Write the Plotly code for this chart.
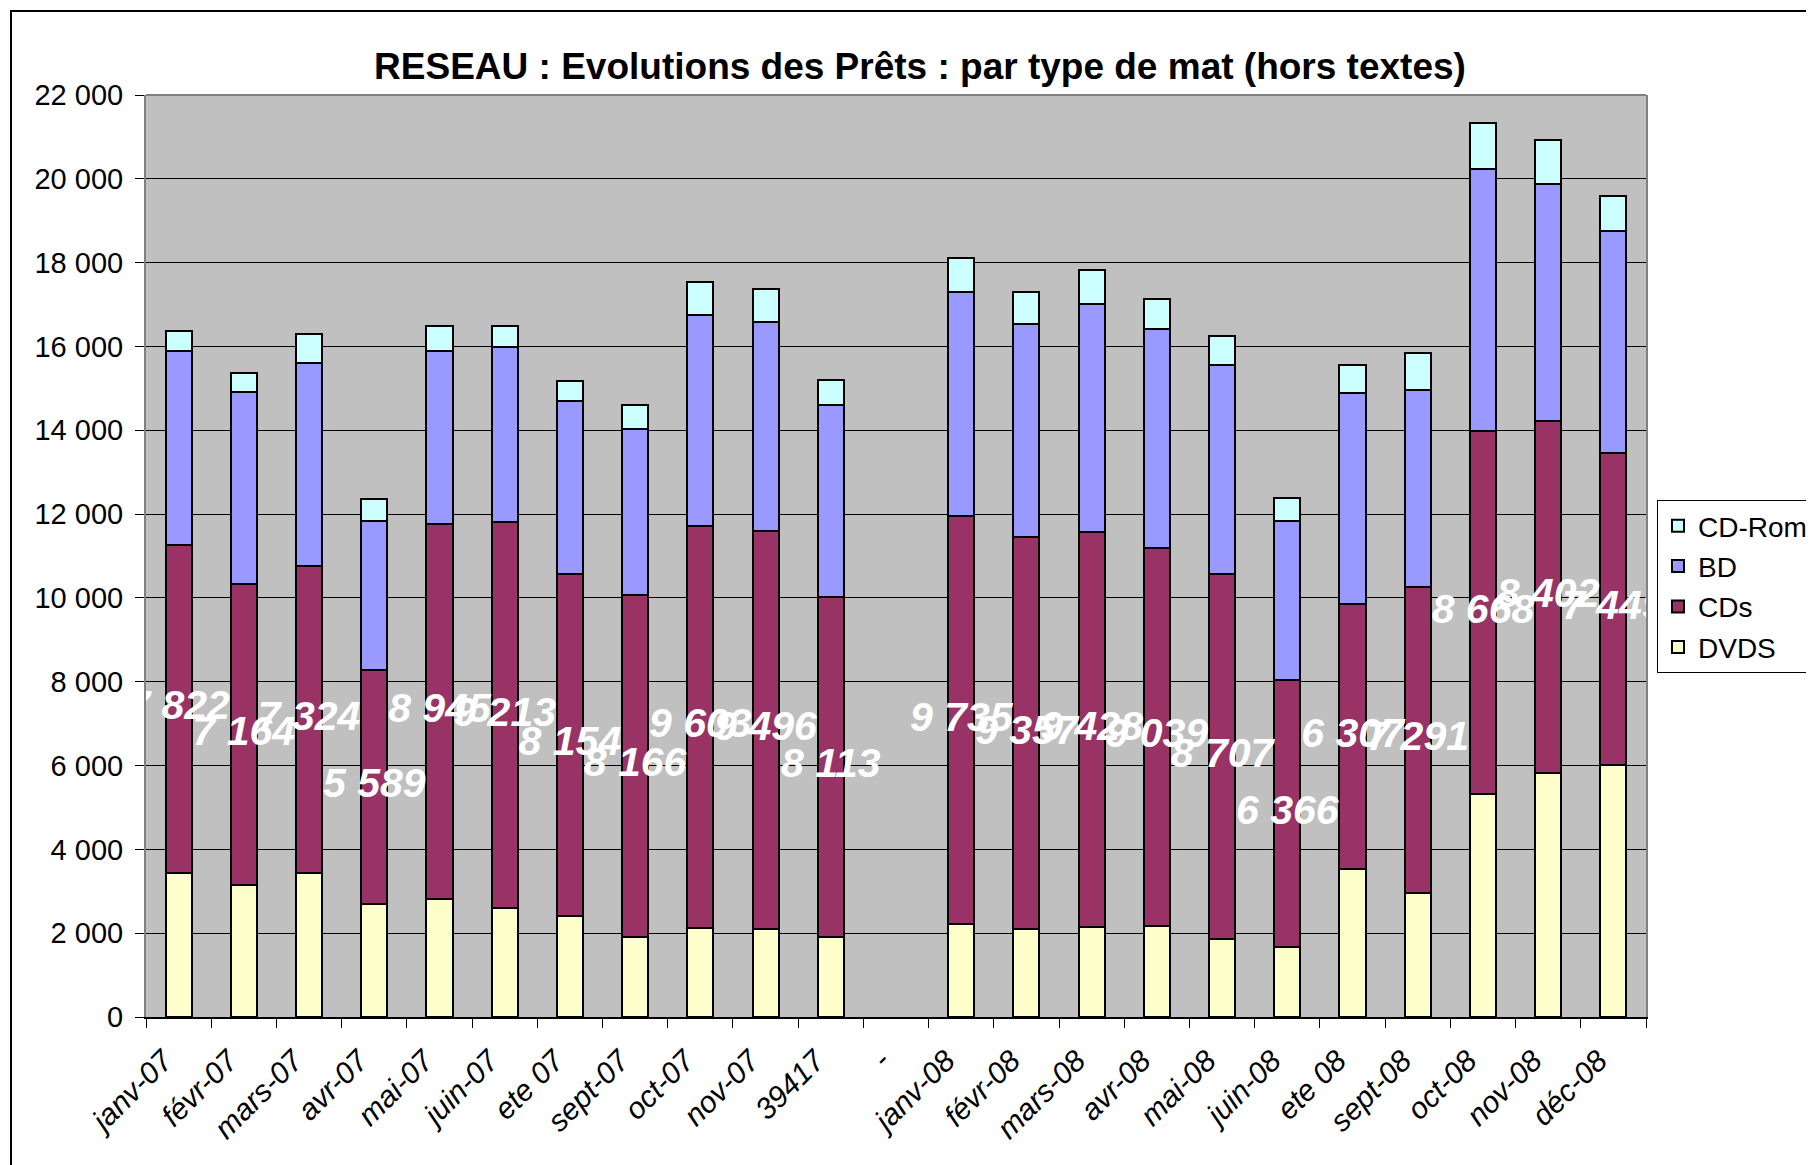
import plotly.graph_objects as go

categories = ["janv-07", "févr-07", "mars-07", "avr-07", "mai-07", "juin-07", "ete 07",
              "sept-07", "oct-07", "nov-07", "39417", "-", "janv-08", "févr-08", "mars-08",
              "avr-08", "mai-08", "juin-08", "ete 08", "sept-08", "oct-08", "nov-08", "déc-08"]

dvds = [3440, 3160, 3440, 2696, 2816, 2592, 2416, 1904, 2120, 2096, 1920, None,
        2211, 2092, 2139, 2163, 1853, 1670, 3540, 2967, 5315, 5825, 6016]
cds = [7822, 7164, 7324, 5589, 8945, 9213, 8154, 8166, 9603, 9496, 8113, None,
       9735, 9357, 9428, 9039, 8707, 6366, 6307, 7291, 8668, 8402, 7449]
bd = [4621, 4597, 4837, 3540, 4127, 4191, 4119, 3968, 5028, 4980, 4566, None,
      5345, 5076, 5457, 5210, 4988, 3810, 5038, 4694, 6253, 5648, 5290]
cdrom = [487, 447, 685, 542, 590, 502, 494, 574, 797, 789, 597, None,
         812, 771, 795, 724, 708, 541, 684, 883, 1105, 1042, 835]

series = [("DVDS", dvds, "#FFFFCC", 4), ("CDs", cds, "#993366", 3),
          ("BD", bd, "#9999FF", 2), ("CD-Rom", cdrom, "#CCFFFF", 1)]

FONT = "Liberation Sans, Arial"

fig = go.Figure()
for name, vals, col, rank in series:
    fig.add_trace(go.Bar(
        x=categories, y=vals, name=name, legendgroup=name, legendrank=rank,
        marker=dict(color=col, line=dict(color="black", width=2)),
        hoverinfo="skip",
    ))

label_y = [None if (d is None or c is None) else d + c / 2 for d, c in zip(dvds, cds)]
label_txt = ["" if c is None else f"{c:,}".replace(",", " ") for c in cds]
fig.add_trace(go.Scatter(
    x=categories, y=label_y, text=label_txt, mode="text",
    textposition="middle center", cliponaxis=True, showlegend=False,
    textfont=dict(family=FONT, size=41, color="white", weight="bold", style="italic"),
    hoverinfo="skip",
))

# page body has an 8px margin; target positions below are in the div's pixels
W, H = 1806, 1157
L, R, T, B = 138, 1638, 87, 1009
pw, ph = R - L, B - T

def px(x):
    return (x - L) / pw

def py(y):
    return (B - y) / ph

fig.update_layout(
    width=W, height=H,
    margin=dict(l=L, r=W - R, t=T, b=H - B, autoexpand=False),
    paper_bgcolor="white", plot_bgcolor="#C0C0C0",
    barmode="stack", bargap=0.6,
    separators=", ",
    font=dict(family=FONT, color="black"),
    title=dict(text="<b>RESEAU : Evolutions des Prêts : par type de mat (hors textes)</b>",
               font=dict(size=37, family=FONT, color="black"),
               xref="paper", x=px(912), xanchor="center",
               yref="container", y=1 - 58 / H, yanchor="middle"),
    legend=dict(x=px(1649), xanchor="left", y=py(492), yanchor="top",
                bgcolor="white", bordercolor="black", borderwidth=1,
                font=dict(size=28, family=FONT),
                traceorder="grouped", tracegroupgap=1),
    showlegend=True,
)

fig.update_xaxes(
    type="category", categoryorder="array", categoryarray=categories,
    range=[-0.5, len(categories) - 0.5],
    tickson="boundaries", ticks="outside", ticklen=9, tickcolor="black", tickwidth=1,
    tickangle=-45, showgrid=False,
    ticklabelshift=-15, ticklabelstandoff=12,
    tickfont=dict(size=30, style="italic", family=FONT),
    showline=True, linecolor="black", linewidth=2,
)
fig.update_yaxes(
    range=[0, 22000], dtick=2000, tickformat=",d",
    showgrid=True, gridcolor="black", gridwidth=1,
    ticks="outside", ticklen=9, tickcolor="black", tickwidth=1,
    ticklabelstandoff=6,
    tickfont=dict(size=29, family=FONT),
    showline=True, linecolor="#808080", linewidth=2, mirror=True,
    zeroline=False,
)

fig.add_shape(type="line", xref="paper", yref="paper", x0=0, x1=1, y0=1, y1=1,
              line=dict(color="#808080", width=2))
fig.add_shape(type="rect", xref="paper", yref="paper",
              x0=px(3), x1=px(1900), y0=py(1300), y1=py(3),
              line=dict(color="black", width=2), layer="below")

fig.write_html("out.html")
